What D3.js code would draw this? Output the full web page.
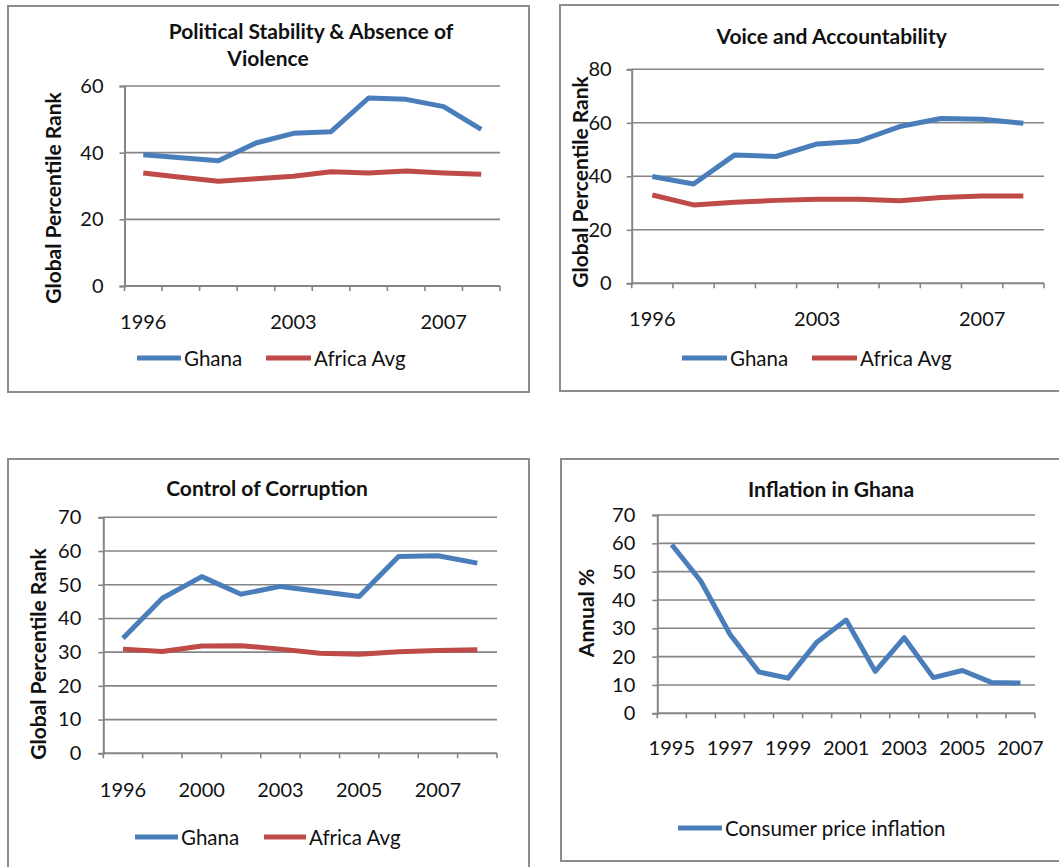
<!DOCTYPE html>
<html>
<head>
<meta charset="utf-8">
<script src="https://cdn.jsdelivr.net/npm/d3@7"></script>
<style>
  html, body { margin: 0; padding: 0; background: #fff; }
  svg { display: block; font-family: Lato, "Open Sans", sans-serif; }
</style>
</head>
<body>
<svg id="chart" width="1059" height="867"></svg>
<script>
// Worldwide Governance Indicator years
const govYears = ["1996", "1998", "2000", "2002", "2003", "2004", "2005", "2006", "2007", "2008"];

// Political Stability & Absence of Violence (global percentile rank)
const psGhana  = [39.4, 38.5, 37.6, 42.9, 45.8, 46.3, 56.4, 56.0, 53.8, 47.0];
const psAfrica = [33.9, 32.6, 31.4, 32.2, 32.9, 34.3, 33.9, 34.5, 33.9, 33.5];
const psYTicks = [0, 20, 40, 60];
const psXLabels = ["1996", "2003", "2007"];

// Voice and Accountability
const vaGhana  = [39.9, 37.1, 48.0, 47.4, 52.1, 53.1, 58.6, 61.6, 61.3, 59.8];
const vaAfrica = [33.0, 29.3, 30.3, 31.0, 31.4, 31.4, 30.9, 32.1, 32.6, 32.6];
const vaYTicks = [0, 20, 40, 60, 80];
const vaXLabels = ["1996", "2003", "2007"];

// Control of Corruption
const ccGhana  = [34.1, 46.0, 52.4, 47.2, 49.5, 48.0, 46.5, 58.4, 58.6, 56.4];
const ccAfrica = [30.9, 30.2, 31.8, 31.9, 30.9, 29.7, 29.4, 30.1, 30.5, 30.7];
const ccYTicks = [0, 10, 20, 30, 40, 50, 60, 70];
const ccXLabels = ["1996", "2000", "2003", "2005", "2007"];

// Consumer price inflation in Ghana, annual %
const cpiYears = ["1995", "1996", "1997", "1998", "1999", "2000", "2001", "2002", "2003", "2004", "2005", "2006", "2007"];
const cpiGhana = [59.5, 46.6, 27.9, 14.6, 12.4, 25.2, 32.9, 14.8, 26.7, 12.6, 15.1, 10.9, 10.7];
const cpiYTicks = [0, 10, 20, 30, 40, 50, 60, 70];
const cpiXLabels = ["1995", "1997", "1999", "2001", "2003", "2005", "2007"];

const BLUE = "#4a7ebb";
const RED = "#be4b48";
const GRID = "#858585";
const FRAME = "#8c8c8c";
const TEXT = "#111";

const svg = d3.select("#chart");

function drawPanel(cfg) {
  const g = svg.append("g");

  // outer frame
  g.append("rect")
    .attr("x", cfg.frame[0]).attr("y", cfg.frame[1])
    .attr("width", cfg.frame[2] - cfg.frame[0]).attr("height", cfg.frame[3] - cfg.frame[1])
    .attr("fill", "#fff").attr("stroke", FRAME).attr("stroke-width", 2);

  const x = d3.scaleBand().domain(cfg.categories).range([cfg.left, cfg.right]).padding(0);
  const y = d3.scaleLinear().domain([0, d3.max(cfg.yTicks)]).range([cfg.bottom, cfg.top]);

  // horizontal gridlines
  g.append("g").selectAll("line")
    .data(cfg.yTicks.filter(d => d > 0))
    .join("line")
    .attr("x1", cfg.left).attr("x2", cfg.right)
    .attr("y1", d => y(d)).attr("y2", d => y(d))
    .attr("stroke", GRID).attr("stroke-width", 1.6);

  // value axis
  const yAxis = g.append("g")
    .attr("transform", `translate(${cfg.left},0)`)
    .call(d3.axisLeft(y).tickValues(cfg.yTicks).tickSize(5).tickPadding(cfg.yPad).tickFormat(d3.format("d")));
  yAxis.select(".domain").attr("stroke", GRID).attr("stroke-width", 2);
  yAxis.selectAll(".tick line").attr("stroke", GRID).attr("stroke-width", 1.6);
  yAxis.selectAll(".tick text")
    .attr("fill", TEXT).attr("font-size", cfg.tickSize).attr("font-family", "Lato, sans-serif");

  // category axis: line plus tick marks on category boundaries
  const bounds = d3.range(cfg.categories.length + 1).map(i => cfg.left + i * x.step());
  g.append("line")
    .attr("x1", cfg.left).attr("x2", cfg.right)
    .attr("y1", cfg.bottom).attr("y2", cfg.bottom)
    .attr("stroke", GRID).attr("stroke-width", 2);
  g.append("g").selectAll("line")
    .data(bounds)
    .join("line")
    .attr("x1", d => d).attr("x2", d => d)
    .attr("y1", cfg.bottom).attr("y2", cfg.bottom + 5)
    .attr("stroke", GRID).attr("stroke-width", 1.6);

  // category labels
  g.append("g").selectAll("text")
    .data(cfg.xLabels)
    .join("text")
    .attr("x", d => x(d) + x.bandwidth() / 2)
    .attr("y", cfg.xLabelY)
    .attr("text-anchor", "middle")
    .attr("fill", TEXT).attr("font-size", cfg.tickSize)
    .text(d => d);

  // series lines
  const line = d3.line()
    .x((d, i) => x(cfg.categories[i]) + x.bandwidth() / 2)
    .y(d => y(d));
  cfg.series.forEach(s => {
    g.append("path")
      .datum(s.values)
      .attr("d", line)
      .attr("fill", "none")
      .attr("stroke", s.color)
      .attr("stroke-width", 5)
      .attr("stroke-linejoin", "round")
      .attr("stroke-linecap", "butt");
  });

  // title
  cfg.title.forEach(t => {
    g.append("text")
      .attr("x", t.x).attr("y", t.y)
      .attr("text-anchor", "middle")
      .attr("font-weight", "bold").attr("font-size", cfg.titleSize)
      .attr("fill", TEXT)
      .text(t.text);
  });

  // value axis title
  g.append("text")
    .attr("transform", `translate(${cfg.yTitle.x},${cfg.yTitle.y}) rotate(-90)`)
    .attr("text-anchor", "middle")
    .attr("dominant-baseline", "central")
    .attr("font-weight", "bold").attr("font-size", cfg.yTitleSize)
    .attr("fill", TEXT)
    .text(cfg.yTitle.text);

  // legend
  cfg.legend.forEach((item, i) => {
    const s = cfg.series[i];
    g.append("line")
      .attr("x1", item.x1).attr("x2", item.x2)
      .attr("y1", cfg.legendY).attr("y2", cfg.legendY)
      .attr("stroke", s.color).attr("stroke-width", 5);
    g.append("text")
      .attr("x", item.x2 + 3).attr("y", cfg.legendY)
      .attr("dominant-baseline", "central")
      .attr("fill", TEXT).attr("font-size", cfg.legendSize)
      .text(s.name);
  });
}

drawPanel({
  frame: [8, 6, 529, 392],
  categories: govYears, xLabels: psXLabels, yTicks: psYTicks,
  left: 124.5, right: 500, top: 86, bottom: 286,
  tickSize: 20, yPad: 16, xLabelY: 329,
  title: [
    { text: "Political Stability & Absence of", x: 311, y: 39 },
    { text: "Violence", x: 268, y: 66 }
  ],
  titleSize: 21,
  yTitle: { text: "Global Percentile Rank", x: 52, y: 198 },
  yTitleSize: 21,
  series: [
    { name: "Ghana", values: psGhana, color: BLUE },
    { name: "Africa Avg", values: psAfrica, color: RED }
  ],
  legendY: 358, legendSize: 20.5,
  legend: [{ x1: 137, x2: 181 }, { x1: 266, x2: 311 }]
});

drawPanel({
  frame: [560, 5, 1070, 391],
  categories: govYears, xLabels: vaXLabels, yTicks: vaYTicks,
  left: 631.7, right: 1044, top: 69.3, bottom: 283.3,
  tickSize: 20, yPad: 15, xLabelY: 326,
  title: [{ text: "Voice and Accountability", x: 831.7, y: 44 }],
  titleSize: 21,
  yTitle: { text: "Global Percentile Rank", x: 579, y: 182 },
  yTitleSize: 21,
  series: [
    { name: "Ghana", values: vaGhana, color: BLUE },
    { name: "Africa Avg", values: vaAfrica, color: RED }
  ],
  legendY: 358, legendSize: 20.5,
  legend: [{ x1: 682, x2: 727 }, { x1: 812, x2: 857 }]
});

drawPanel({
  frame: [8, 459, 529, 880],
  categories: govYears, xLabels: ccXLabels, yTicks: ccYTicks,
  left: 103.3, right: 497, top: 517.3, bottom: 753.3,
  tickSize: 20, yPad: 17, xLabelY: 797,
  title: [{ text: "Control of Corruption", x: 267, y: 496 }],
  titleSize: 21,
  yTitle: { text: "Global Percentile Rank", x: 37, y: 654 },
  yTitleSize: 21,
  series: [
    { name: "Ghana", values: ccGhana, color: BLUE },
    { name: "Africa Avg", values: ccAfrica, color: RED }
  ],
  legendY: 837, legendSize: 20.5,
  legend: [{ x1: 135, x2: 178 }, { x1: 264, x2: 306 }]
});

drawPanel({
  frame: [561, 459, 1070, 861],
  categories: cpiYears, xLabels: cpiXLabels, yTicks: cpiYTicks,
  left: 657.3, right: 1035, top: 515, bottom: 713.3,
  tickSize: 20, yPad: 17, xLabelY: 755,
  title: [{ text: "Inflation in Ghana", x: 831, y: 497 }],
  titleSize: 21,
  yTitle: { text: "Annual %", x: 585, y: 613 },
  yTitleSize: 21,
  series: [
    { name: "Consumer price inflation", values: cpiGhana, color: BLUE }
  ],
  legendY: 828, legendSize: 20.5,
  legend: [{ x1: 678, x2: 722 }]
});
</script>
</body>
</html>
